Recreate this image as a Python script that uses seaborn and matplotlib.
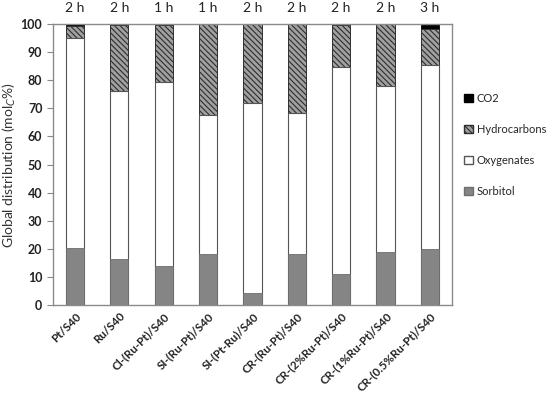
import numpy as np
import pandas as pd
import matplotlib
matplotlib.use("Agg")
import matplotlib.pyplot as plt
import seaborn as sns
from matplotlib.patches import Patch

catalysts = ["Pt/S40", "Ru/S40", "Cl-(Ru-Pt)/S40", "SI-(Ru-Pt)/S40", "SI-(Pt-Ru)/S40",
             "CR-(Ru-Pt)/S40", "CR-(2%Ru-Pt)/S40", "CR-(1%Ru-Pt)/S40", "CR-(0.5%Ru-Pt)/S40"]
times = ["2 h", "2 h", "1 h", "1 h", "2 h", "2 h", "2 h", "2 h", "3 h"]
sorbitol = [20.2, 16.4, 13.9, 18.1, 4.4, 18.0, 11.0, 19.0, 20.0]
oxygenates = [74.7, 59.8, 65.6, 49.5, 67.4, 50.4, 73.6, 59.0, 65.6]
hydrocarbons = [4.4, 23.6, 20.0, 32.4, 28.2, 31.6, 15.0, 22.0, 12.8]
co2 = [0.7, 0.2, 0.5, 0.0, 0.0, 0.0, 0.4, 0.0, 1.6]

sns.set_style("white")
plt.rcParams['font.family'] = ['Lato', 'DejaVu Sans']
plt.rcParams['hatch.linewidth'] = 0.8

df = pd.DataFrame({"cat": catalysts, "Sorbitol": sorbitol, "Oxygenates": oxygenates,
                   "Hydrocarbons": hydrocarbons, "CO2": co2})
df["lvl1"] = df["Sorbitol"]
df["lvl2"] = df["lvl1"] + df["Oxygenates"]
df["lvl3"] = df["lvl2"] + df["Hydrocarbons"]
df["lvl4"] = df["lvl3"] + df["CO2"]

fig = plt.figure(figsize=(5.5, 3.95), dpi=100)
ax = fig.add_axes([0.096, 0.228, 0.726, 0.711])

w = 0.41
edge = "#555555"
hatch = "\\\\\\\\\\\\"
# overlay from the top layer down
sns.barplot(data=df, x="cat", y="lvl4", color="black", width=w, ax=ax,
            edgecolor="black", linewidth=0.6, saturation=1, errorbar=None)
sns.barplot(data=df, x="cat", y="lvl3", color="#a0a0a0", width=w, ax=ax,
            edgecolor="#2e2e2e", linewidth=0.6, saturation=1, errorbar=None, hatch=hatch)
sns.barplot(data=df, x="cat", y="lvl2", color="white", width=w, ax=ax,
            edgecolor=edge, linewidth=0.8, saturation=1, errorbar=None)
sns.barplot(data=df, x="cat", y="lvl1", color="#858585", width=w, ax=ax,
            edgecolor="#6e6e6e", linewidth=0.6, saturation=1, errorbar=None)

ax.set_ylim(0, 100)
ax.set_xlim(-0.5, len(catalysts) - 0.5)
ax.set_yticks(range(0, 101, 10))
ax.set_xlabel("")
ax.set_ylabel("Global distribution (mol$_C$%)", fontsize=10, color="#333333", labelpad=2)
ax.tick_params(axis="y", labelsize=9, left=True, length=4, color="#888888", colors="#222222")
ax.tick_params(axis="x", length=0, pad=4)
for t in ax.get_yticklabels():
    t.set_fontweight("bold")
ax.set_xticks(range(len(catalysts)))
ax.set_xticklabels(catalysts, rotation=45, ha="right", rotation_mode="anchor",
                   fontsize=8.3, fontweight="bold", color="#222222")
for s in ax.spines.values():
    s.set_color("#8a8a8a")
    s.set_linewidth(1.0)

for i, t in enumerate(times):
    ax.text(i, 1.035, t, transform=ax.get_xaxis_transform(), ha="center", va="bottom",
            fontsize=10, color="#222222")

handles = [Patch(facecolor="black", edgecolor="black", label="CO2"),
           Patch(facecolor="#a0a0a0", edgecolor="#2e2e2e", hatch=hatch, label="Hydrocarbons"),
           Patch(facecolor="white", edgecolor=edge, label="Oxygenates"),
           Patch(facecolor="#858585", edgecolor="#6e6e6e", label="Sorbitol")]
fig.legend(handles=handles, loc="upper left", bbox_to_anchor=(0.826, 0.79), frameon=False,
           fontsize=8, handlelength=0.8, handleheight=0.8, handletextpad=0.3, labelspacing=1.8)

fig.savefig("out.png", dpi=100)
